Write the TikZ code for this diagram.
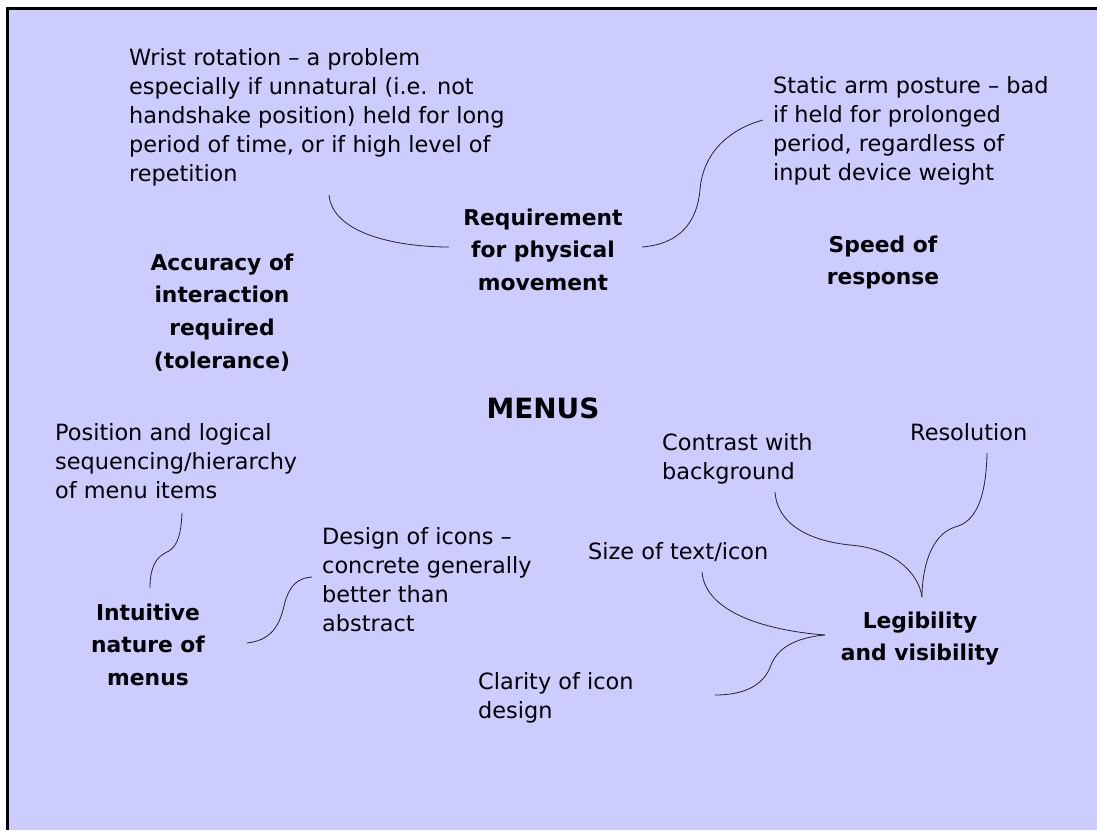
\documentclass[tikz,border=0pt]{standalone}
\usepackage{fontspec}
\setmainfont{DejaVu Sans}
\definecolor{bg}{RGB}{204,204,255}
\begin{document}
\begin{tikzpicture}[x=1pt,y=-1pt,
  note/.style={font=\fontsize{22.4}{29}\selectfont, align=left, anchor=north west, inner sep=0pt},
  topic/.style={font=\fontsize{21.8}{32.8}\selectfont\bfseries, align=center, anchor=north, inner sep=0pt},
  link/.style={line width=0.8pt, draw=black!85}]
\useasboundingbox (0,0) rectangle (1097,830);
\fill[white] (0,0) rectangle (1097,830);
\fill[bg] (6,7) rectangle (1097,830);
\draw[line width=3pt] (7.5,830) -- (7.5,8.4) -- (1097,8.4);

\node[note] (wrist) at (129,48) {Wrist rotation – a problem\\especially if unnatural (i.e. not\\handshake position) held for long\\period of time, or if high level of\\repetition};
\node[note] (static) at (773,76) {Static arm posture – bad\\if held for prolonged\\period, regardless of\\input device weight};
\node[topic] (req) at (543,208.4) {Requirement\\for physical\\movement};
\node[topic] (speed) at (883,235.4) {Speed of\\response};
\node[topic] (acc) at (222,253.4) {Accuracy of\\interaction\\required\\(tolerance)};
\node[font=\fontsize{27.9}{32}\selectfont\bfseries, anchor=base, inner sep=0pt] (menus) at (543,418) {MENUS};
\node[note] (pos) at (55,423) {Position and logical\\sequencing/hierarchy\\of menu items};
\node[topic] (intu) at (148,603.4) {Intuitive\\nature of\\menus};
\node[note] (design) at (322,527) {Design of icons –\\concrete generally\\better than\\abstract};
\node[note] (contrast) at (662,433) {Contrast with\\background};
\node[note] (res) at (910,423) {Resolution};
\node[note] (size) at (588,542) {Size of text/icon};
\node[note] (clarity) at (478,672) {Clarity of icon\\design};
\node[topic] (leg) at (920,611.4) {Legibility\\and visibility};

\coordinate (c1a) at (329,195); \coordinate (c1b) at (449,247);
\coordinate (c2a) at (642,247); \coordinate (c2m) at (700,190); \coordinate (c2b) at (763,120);
\coordinate (c3a) at (182,513); \coordinate (c3m) at (165,553); \coordinate (c3b) at (150,588);
\coordinate (c4a) at (247,643); \coordinate (c4m) at (285,602); \coordinate (c4b) at (312,577);
\coordinate (c5a) at (987,453); \coordinate (c5m) at (955,527); \coordinate (lv) at (922,597);
\coordinate (c6a) at (775,492); \coordinate (c6m) at (850,545);
\coordinate (c7a) at (702,572); \coordinate (lh) at (825,635);
\coordinate (c8m) at (771,665); \coordinate (c8b) at (715,695);

\draw[link] (c1a) .. controls (333,235) and (400,247) .. (c1b);
\draw[link] (c2a) .. controls (680,244) and (697,222) .. (c2m) .. controls (703,150) and (733,128) .. (c2b);
\draw[link] (c3a) .. controls (181,540) and (175,549) .. (c3m) .. controls (152,560) and (150,575) .. (c3b);
\draw[link] (c4a) .. controls (275,640) and (281,620) .. (c4m) .. controls (290,585) and (298,578) .. (c4b);
\draw[link] (c5a) .. controls (986,500) and (975,522) .. (c5m) .. controls (930,535) and (922,570) .. (lv);
\draw[link] (c6a) .. controls (778,530) and (820,542) .. (c6m) .. controls (890,548) and (918,570) .. (lv);
\draw[link] (c7a) .. controls (705,610) and (760,630) .. (lh);
\draw[link] (lh) .. controls (792,638) and (777,650) .. (c8m) .. controls (764,685) and (745,695) .. (c8b);
\end{tikzpicture}
\end{document}
